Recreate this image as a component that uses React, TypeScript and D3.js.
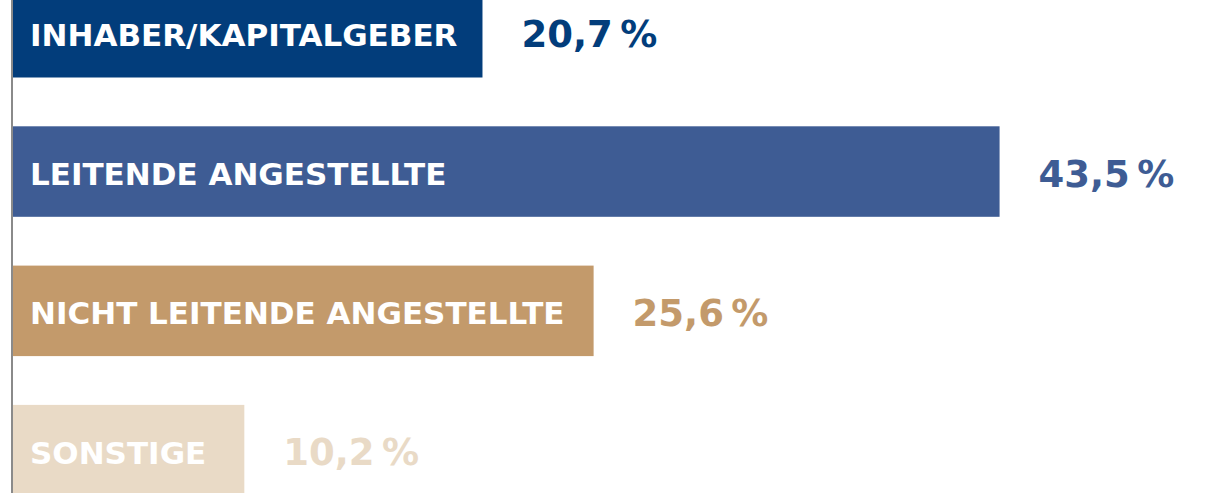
import React from "react";
import * as d3 from "d3";

const categories = [
  "INHABER/KAPITALGEBER",
  "LEITENDE ANGESTELLTE",
  "NICHT LEITENDE ANGESTELLTE",
  "SONSTIGE",
];
const values = [20.7, 43.5, 25.6, 10.2];
const colors = ["#023d7b", "#3e5c94", "#c39a6b", "#e9dac6"];

const W = 1205;
const H = 493;

export default function App() {
  const x = d3.scaleLinear().domain([0, 50]).range([13, 13 + 22.68 * 50]);
  const step = 139.3;
  const bh = 90.5;
  const y = d3
    .scaleBand<string>()
    .domain(categories)
    .range([-13, -13 + step * (categories.length - 1) + bh])
    .paddingInner((step - bh) / step)
    .paddingOuter(0);
  const fmt = (v: number) => d3.format(".1f")(v).replace(".", ",") + "\u2009%";
  const font = "'DejaVu Sans', sans-serif";
  return (
    <svg
      width={W}
      height={H}
      style={{ position: "fixed", left: 0, top: 0, background: "#fff" }}
    >
      {categories.map((c, i) => {
        const y0 = y(c)!;
        const h = y.bandwidth();
        const cy = y0 + h / 2;
        return (
          <g key={c}>
            <rect x={x(0)} y={y0} width={x(values[i]) - x(0)} height={h} fill={colors[i]} />
            <text
              x={30}
              y={cy + 13.5}
              fill="#fff"
              fontFamily={font}
              fontWeight="bold"
              fontSize={31}
            >
              {c}
            </text>
            <text
              x={x(values[i]) + 39}
              y={cy + 15}
              fill={colors[i]}
              fontFamily={font}
              fontWeight="bold"
              fontSize={37}
            >
              {fmt(values[i])}
            </text>
          </g>
        );
      })}
      <line x1={12} x2={12} y1={0} y2={H} stroke="#8a8a8a" strokeWidth={2} />
    </svg>
  );
}
